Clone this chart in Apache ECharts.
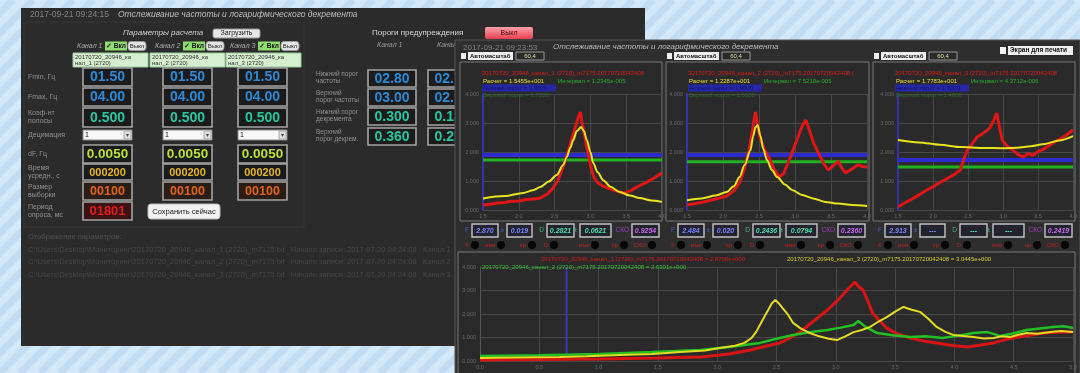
<!DOCTYPE html>
<html>
<head>
<meta charset="utf-8">
<script src="https://cdn.jsdelivr.net/npm/echarts@6/dist/echarts.min.js"></script>
<style>
html,body{margin:0;padding:0;background:#d3e9f9;}
#main{width:1080px;height:373px;}
</style>
</head>
<body>
<div id="main"></div>
<script>
// ---------- Данные ----------
// Частотный диапазон верхних графиков, Гц
const freqMin = 1.5, freqMax = 4.0;
// Диапазон суммарного спектра, Гц
const sumFreqMin = 0, sumFreqMax = 5;

// Канал 1: расчетная кривая и измеренный спектр [частота, амплитуда]
const ch1Calc = [[1.50,0.40],[1.80,0.48],[2.06,0.59],[2.20,0.68],[2.30,0.79],[2.42,0.98],[2.53,1.21],[2.62,1.55],[2.67,1.83],[2.72,2.15],[2.76,2.41],[2.81,2.72],[2.87,2.86],[2.91,2.72],[2.95,2.41],[3.00,2.00],[3.04,1.62],[3.10,1.30],[3.18,1.03],[3.28,0.80],[3.41,0.62],[3.55,0.50],[3.69,0.41],[3.85,0.33],[4.00,0.28]];
const ch1Meas = [[1.50,0.17],[1.60,0.20],[1.70,0.24],[1.80,0.26],[1.90,0.30],[2.00,0.31],[2.10,0.36],[2.20,0.38],[2.30,0.41],[2.40,0.55],[2.48,0.76],[2.55,1.05],[2.62,1.50],[2.68,1.95],[2.74,2.45],[2.79,2.85],[2.83,3.20],[2.86,3.38],[2.88,3.05],[2.91,2.70],[2.95,2.15],[3.00,1.55],[3.05,1.12],[3.10,0.95],[3.18,0.82],[3.28,0.72],[3.38,0.64],[3.48,0.58],[3.56,0.66],[3.64,0.78],[3.72,0.88],[3.80,0.98],[3.90,1.12],[4.00,1.28]];
// Канал 2
const ch2Calc = [[1.50,0.34],[1.70,0.40],[1.90,0.50],[2.05,0.62],[2.15,0.82],[2.23,1.14],[2.30,1.55],[2.38,2.05],[2.42,2.55],[2.45,2.85],[2.48,2.93],[2.52,2.55],[2.56,2.10],[2.61,1.72],[2.68,1.38],[2.75,1.14],[2.86,0.88],[2.96,0.69],[3.10,0.52],[3.25,0.40],[3.42,0.28],[3.60,0.22],[3.80,0.17],[4.00,0.14]];
const ch2Meas = [[1.50,0.17],[1.70,0.26],[1.90,0.38],[2.05,0.48],[2.15,0.66],[2.23,0.95],[2.30,1.45],[2.36,2.05],[2.41,2.75],[2.45,3.38],[2.48,2.95],[2.52,2.45],[2.58,2.05],[2.64,1.80],[2.70,1.45],[2.78,1.14],[2.84,1.25],[2.90,1.60],[2.96,1.97],[3.03,2.45],[3.10,2.90],[3.15,3.10],[3.20,2.75],[3.26,2.30],[3.33,1.95],[3.40,1.60],[3.46,1.38],[3.52,1.50],[3.60,1.68],[3.65,1.45],[3.70,1.28],[3.78,1.40],[3.88,1.56],[3.94,1.50],[4.00,1.48]];
// Канал 3
const ch3Calc = [[1.50,2.41],[1.80,2.33],[2.10,2.25],[2.40,2.17],[2.70,2.14],[3.00,2.13],[3.20,2.15],[3.40,2.20],[3.60,2.28],[3.80,2.40],[4.00,2.55]];
const ch3Meas = [[1.50,0.10],[1.60,0.25],[1.70,0.38],[1.80,0.52],[1.91,0.69],[2.00,0.80],[2.10,0.95],[2.20,1.08],[2.30,1.22],[2.39,1.38],[2.44,1.75],[2.49,2.07],[2.56,2.28],[2.63,2.52],[2.70,2.62],[2.76,2.72],[2.81,2.83],[2.86,3.05],[2.91,3.34],[2.95,2.85],[2.99,2.40],[3.06,2.20],[3.14,2.07],[3.22,1.90],[3.29,1.83],[3.36,1.95],[3.42,1.88],[3.49,2.00],[3.58,2.10],[3.66,2.22],[3.73,2.34],[3.82,2.45],[3.90,2.58],[4.00,2.76]];
// Пороги амплитуды (синий – нижний, зеленый – верхний)
const lowThreshold = [1.90, 1.90, 1.72];
const highThreshold = [1.72, 1.66, 1.48];

// Суммарные спектры трех каналов
const sumCh1 = [[0.00,0.04],[0.50,0.06],[1.01,0.09],[1.50,0.13],[1.86,0.17],[2.10,0.30],[2.28,0.47],[2.40,0.62],[2.53,0.77],[2.62,1.00],[2.70,1.23],[2.80,1.65],[2.93,2.17],[3.02,2.60],[3.08,2.94],[3.13,3.20],[3.16,3.36],[3.19,3.18],[3.23,3.02],[3.27,2.55],[3.31,2.04],[3.37,1.70],[3.43,1.40],[3.52,1.15],[3.63,0.98],[3.74,0.85],[3.85,0.77],[3.98,0.66],[4.11,0.60],[4.22,0.68],[4.33,0.77],[4.41,0.88],[4.49,0.98],[4.62,1.08],[4.75,1.19],[4.88,1.22],[5.00,1.23]];
const sumCh2 = [[0.00,0.21],[0.50,0.25],[1.01,0.30],[1.45,0.38],[1.86,0.47],[2.10,0.60],[2.36,0.77],[2.50,0.95],[2.64,1.11],[2.78,1.22],[2.93,1.32],[3.04,1.42],[3.15,1.53],[3.19,1.70],[3.22,1.58],[3.25,1.45],[3.35,1.19],[3.48,1.10],[3.63,1.02],[3.76,1.05],[3.90,0.98],[4.03,1.08],[4.16,1.19],[4.28,1.23],[4.39,1.06],[4.50,1.18],[4.61,1.32],[4.72,1.38],[4.83,1.45],[4.92,1.48],[5.00,1.40]];
const sumCh3 = [[0.00,0.13],[0.30,0.15],[0.67,0.17],[0.90,0.20],[1.18,0.26],[1.45,0.30],[1.69,0.38],[1.90,0.45],[2.02,0.55],[2.15,0.65],[2.23,0.77],[2.29,0.98],[2.33,1.25],[2.36,1.53],[2.40,1.90],[2.43,2.17],[2.46,2.45],[2.49,2.60],[2.52,2.45],[2.55,2.26],[2.60,1.95],[2.64,1.62],[2.70,1.40],[2.78,1.19],[2.86,1.05],[2.94,0.95],[3.01,0.89],[3.08,1.05],[3.15,1.23],[3.22,1.32],[3.29,1.45],[3.36,1.68],[3.43,1.87],[3.50,2.10],[3.57,2.30],[3.64,2.18],[3.71,2.09],[3.78,1.80],[3.85,1.45],[3.92,1.25],[3.99,1.11],[4.08,1.06],[4.16,1.02],[4.25,0.96],[4.33,0.98],[4.40,1.05],[4.47,1.02],[4.54,1.12],[4.61,1.19],[4.70,1.16],[4.81,1.23],[4.90,1.28],[5.00,1.23]];
const markerFreq = 0.73;

// Параметры расчета по каналам
const fMinVals = ['01.50','01.50','01.50'];
const fMaxVals = ['04.00','04.00','04.00'];
const bandCoef = ['0.500','0.500','0.500'];
const decimation = ['1','1','1'];
const dFVals = ['0.0050','0.0050','0.0050'];
const avgTime = ['000200','000200','000200'];
const sampleSize = ['00100','00100','00100'];
const pollPeriod = '01801';
const thrCh1 = ['02.80','03.00','0.300','0.360'];
const thrCh2 = ['02.70','02.95','0.180','0.250'];

// Результаты: частота, погрешность, декремент, погрешность, СКО
const resF = ['2.870','2.484','2.913'];
const resFErr = ['0.019','0.020','---'];
const resD = ['0.2821','0.2436','---'];
const resDErr = ['0.0621','0.0794','---'];
const resSko = ['0.9254','0.2360','0.2419'];
const calcVals = ['1.5455e+001','1.2287e+001','1.7783e+001'];
const intervalVals = ['1.2345e-005','7.5210e-005','4.3712e-006'];

// ---------- Оформление ----------
const FONT = 'Liberation Sans';
const els = [];
function box(x, y, w, h, fill, stroke, z, lw, r) {
  els.push({type:'rect', z, silent:true, shape:{x, y, width:w, height:h, r:r||0},
    style:{fill, stroke:stroke||'none', lineWidth:lw||1}});
}
function txt(x, y, s, color, size, z, o) {
  o = o || {};
  const st = {text:s, fill:color, fontSize:size, fontFamily:o.family||FONT,
    fontWeight:o.weight||'normal', fontStyle:o.italic?'italic':'normal',
    textAlign:o.align||'left', textVerticalAlign:'middle'};
  if (o.width) { st.width = o.width; st.overflow = 'truncate'; st.ellipsis = ''; }
  if (o.blur) { st.shadowBlur = o.blur; st.shadowColor = color; }
  els.push({type:'text', z, silent:true, x, y, style:st});
}
function seg(x1, y1, x2, y2, color, lw, z) {
  els.push({type:'line', z, silent:true, shape:{x1,y1,x2,y2}, style:{stroke:color, lineWidth:lw}});
}
function dot(cx, cy, r, fill, z) {
  els.push({type:'circle', z, silent:true, shape:{cx,cy,r}, style:{fill}});
}

// Фон с диагональной штриховкой
box(0, 0, 1080, 373, '#d3e9f9', null, 0);
for (let x = -400; x < 1100; x += 20) seg(x, 373, x + 373, 0, 'rgba(170,205,235,0.45)', 7, 0);

// ----- Окно параметров -----
box(21, 8, 624, 338, '#2b2b2b', null, 1);
box(24, 22, 280, 205, 'none', '#363636', 1.5);
txt(30, 15, '2017-09-21 09:24:15', '#858585', 8.5, 2);
txt(118, 15, 'Отслеживание частоты и логарифмического декремента', '#bdbdbd', 8.5, 2, {italic:true});
txt(123, 33, 'Параметры расчета', '#cfcfcf', 8, 2, {italic:true});
box(213, 29, 47, 9, '#e6e6e6', '#999', 2, 1, 2);
txt(236.5, 33.5, 'Загрузить', '#222', 7, 2.5, {align:'center'});

const chX = [77, 155, 230];
const fileX = [73, 150, 226];
for (let i = 0; i < 3; i++) {
  const bx = chX[i];
  txt(bx, 46, 'Канал ' + (i + 1), '#a8a8a8', 7, 2, {italic:true});
  box(bx + 28, 41.5, 22, 9, '#8fdc6e', null, 2);
  txt(bx + 29, 46, '✓ Вкл', '#111', 6.5, 2.5, {weight:'bold'});
  box(bx + 51, 41.5, 18, 9, '#e4e4e4', '#999', 2, 1, 3);
  txt(bx + 60, 46, 'Выкл', '#222', 6, 2.5, {align:'center'});
  box(fileX[i], 53, 75, 14, '#d6efcf', '#9c9', 2);
  txt(fileX[i] + 2, 57, '20170720_20946_ка', '#333', 6, 2.5);
  txt(fileX[i] + 2, 63.5, 'нал_' + (i + 1) + ' (2720)', '#333', 6, 2.5);
}

const rowLabels = [['Fmin, Гц'], ['Fmax, Гц'], ['Коэф-нт', 'полосы'], ['Децимация'], ['dF, Гц'],
  ['Время', 'усредн., с'], ['Размер', 'выборки'], ['Период', 'опроса, мс']];
const rowY = [77, 97, 117, 135, 154, 172, 191, 211];
rowLabels.forEach((lines, k) => {
  const y0 = rowY[k] - (lines.length - 1) * 3.5;
  lines.forEach((s, j) => txt(28, y0 + j * 7.5, s, '#939393', 7, 2));
});

const colX = [83, 163, 238];
function digitBox(x, y, w, h, val, color, size, fill) {
  box(x, y, w, h, fill || '#1b1b1b', '#a4a4a4', 2, 1.6);
  txt(x + w / 2, y + h / 2 + 0.5, val, color, size, 2.5, {align:'center', weight:'bold', blur:3});
}
for (let i = 0; i < 3; i++) {
  const x = colX[i];
  digitBox(x, 68, 49, 18, fMinVals[i], '#2a8ad8', 14);
  digitBox(x, 88, 49, 18, fMaxVals[i], '#2a8ad8', 14);
  digitBox(x, 108, 49, 19, bandCoef[i], '#24c8a0', 14);
  box(x, 130, 49, 10, '#f8f8f8', '#888', 2);
  box(x + 41, 131, 7, 8, '#e0e0e0', '#aaa', 2);
  txt(x + 2, 135, decimation[i], '#111', 7, 2.5);
  txt(x + 44.5, 135, '▾', '#444', 6, 2.5, {align:'center'});
  digitBox(x, 145, 49, 18, dFVals[i], '#bfe034', 13.5);
  digitBox(x, 164, 49, 16, avgTime[i], '#e6b62a', 11);
  digitBox(x, 182, 49, 18, sampleSize[i], '#e26418', 12.5, '#2a1d16');
}
digitBox(83, 202, 49, 18, pollPeriod, '#e41c1c', 13, '#3a1414');
box(148, 204, 72, 15, '#f2f2f2', '#bbb', 2, 1, 3);
txt(184, 211.5, 'Сохранить сейчас', '#222', 7.5, 2.5, {align:'center'});

// Пороги предупреждения
txt(372, 33, 'Пороги предупреждения', '#d6d6d6', 8, 2);
els.push({type:'rect', z:2, silent:true, shape:{x:485, y:27, width:48, height:12, r:2},
  style:{fill:{type:'linear', x:0, y:0, x2:0, y2:1, colorStops:[{offset:0, color:'#ffa0aa'}, {offset:1, color:'#e8404e'}]}}});
txt(509, 33, 'Выкл', '#4a0a0a', 7, 2.5, {align:'center'});
txt(377, 45, 'Канал 1', '#999', 7, 2, {italic:true});
txt(437, 45, 'Канал 2', '#999', 7, 2, {italic:true});
const thrLabels = [['Нижний порог', 'частоты'], ['Верхний', 'порог частоты'], ['Нижний порог', 'декремента'], ['Верхний', 'порог декрем.']];
const thrY = [70, 89, 108, 128];
const thrColors = ['#2a8ad8', '#2a8ad8', '#24c8a0', '#24c8a0'];
thrLabels.forEach((lines, k) => {
  txt(316, thrY[k] + 4, lines[0], '#939393', 6.5, 2);
  txt(316, thrY[k] + 11, lines[1], '#939393', 6.5, 2);
  digitBox(368, thrY[k], 48, 17, thrCh1[k], thrColors[k], 14);
  digitBox(428, thrY[k], 48, 17, thrCh2[k], thrColors[k], 14);
});

txt(28, 237, 'Отображение параметров:', '#505050', 7.5, 2);
const logLines = [
  'C:\\Users\\Desktop\\Мониторинг\\20170720_20946_канал_1 (2720)_m7175.txt   Начало записи: 2017-07-20 04:24:08   Канал 1',
  'C:\\Users\\Desktop\\Мониторинг\\20170720_20946_канал_2 (2720)_m7175.txt   Начало записи: 2017-07-20 04:24:08   Канал 2',
  'C:\\Users\\Desktop\\Мониторинг\\20170720_20946_канал_3 (2720)_m7175.txt   Начало записи: 2017-07-20 04:24:08   Канал 3'];
logLines.forEach((s, k) => txt(28, 249.5 + k * 12.5, s, '#474747', 7.5, 2));

// ----- Окно графиков -----
box(455, 40, 625, 340, '#2e2e2e', '#555', 3);
txt(463, 47.5, '2017-09-21 09:23:53', '#858585', 8, 4);
txt(553, 46.5, 'Отслеживание частоты и логарифмического декремента', '#bdbdbd', 8, 4, {italic:true});
box(1000, 47, 6, 7, '#f4f4f4', null, 4);
box(1008, 46, 65, 9, '#f0f0f0', null, 4);
txt(1010, 50.5, 'Экран для печати', '#111', 6.5, 4.5, {weight:'bold'});

const frameX = [460, 666, 873];
const frameW = [202, 203, 202];
const redNames = ['20170720_20946_канал_1 (2720)_m7175.20170720042408 (0.0050 Гц, 1.50-4.00 Гц) = 2.8700e+000',
  '20170720_20946_канал_2 (2720)_m7175.20170720042408 (0.0050 Гц, 1.50-4.00 Гц) = 2.4840e+000',
  '20170720_20946_канал_3 (2720)_m7175.20170720042408 (0.0050 Гц, 1.50-4.00 Гц) = 2.9130e+000'];
for (let i = 0; i < 3; i++) {
  const L = frameX[i];
  box(L, 62, frameW[i], 159, '#2a2a2a', '#777', 4);
  // строка автомасштаба
  box(L + 1, 53, 5, 6, '#eee', null, 4);
  box(L + 8, 52, 45, 8, '#f0f0f0', null, 4);
  txt(L + 10, 56, 'Автомасштаб', '#111', 6, 4.5, {weight:'bold'});
  box(L + 56, 52, 28, 8, '#2a2a2a', '#999', 4);
  txt(L + 70, 56, '60,4', '#c8e0a0', 6, 4.5, {align:'center'});
  // подписи
  txt(L + 22, 73, redNames[i], '#e01a1a', 6, 7, {width:frameW[i] - 24});
  txt(L + 23, 81, 'Расчет = ' + calcVals[i], '#e8e020', 6, 7);
  txt(L + 98, 81, 'Интервал = ' + intervalVals[i], '#28b028', 6, 7);
  box(L + 22, 84.5, 74, 7, '#2626a8', null, 7);
  txt(L + 23, 88, 'Нижний порог = ' + lowThreshold[i].toFixed(4), '#14146a', 6, 7.5);
  txt(L + 23, 95.5, 'Верхний порог = ' + highThreshold[i].toFixed(4), '#2a6a2a', 6, 7);

  // строка результатов
  const boxDefs = [
    {p:'F', pc:'#4a5ad0', x:12, w:26, v:resF[i], c:'#7484ff'},
    {p:'±', pc:'#4a5ad0', x:47, w:25, v:resFErr[i], c:'#7484ff'},
    {p:'D', pc:'#3ab890', x:87, w:27, v:resD[i], c:'#44e0a8'},
    {p:'±', pc:'#3ab890', x:120, w:31, v:resDErr[i], c:'#44e0a8'},
    {p:'СКО', pc:'#9a40c0', x:172, w:27, v:resSko[i], c:'#c864f0'}];
  boxDefs.forEach(b => {
    txt(L + b.x - 3, 230.5, b.p, b.pc, 6.5, 4.5, {align:'right'});
    box(L + b.x, 224, b.w, 13, '#232330', '#c4c4c4', 4, 1.4);
    txt(L + b.x + b.w / 2, 230.8, b.v, b.c, 7, 4.5, {align:'center', italic:true, weight:'bold'});
  });
  // индикаторы
  const dotX = [15, 41, 72, 94, 135, 164, 192];
  const dotLbl = ['F', 'изм', 'ср', 'D', 'изм', 'ср', 'СКО'];
  dotX.forEach((dx, k) => {
    txt(L + dx - 6, 245, dotLbl[k], '#c81c1c', 6, 4.5, {align:'right'});
    dot(L + dx, 245, 4, '#050505', 4.5);
  });
}

// Суммарный спектр
box(458, 252, 617, 130, '#2a2a2a', '#777', 4);
txt(643, 259, '20170720_20946_канал_1 (2720)_m7175.20170720042408 = 2.8700e+000', '#d81818', 6, 7, {align:'center'});
txt(482, 267, '20170720_20946_канал_2 (2720)_m7175.20170720042408 = 2.6301e+000', '#30c030', 6, 7);
txt(787, 259, '20170720_20946_канал_3 (2720)_m7175.20170720042408 = 3.0445e+000', '#d8d020', 6, 7);

// ---------- Графики ----------
const grids = [
  {left:483, top:94, width:179, height:116},
  {left:687, top:94, width:180, height:116},
  {left:898, top:94, width:175, height:116},
  {left:480, top:267, width:593, height:94}
];
const splitStyle = {lineStyle:{color:'#474747', width:1}};
const labelStyle = {fontSize:5.5, color:'#6a6a6a', fontFamily:FONT};
const xAxes = grids.map((g, i) => ({
  gridIndex:i, type:'value', z:5,
  min: i < 3 ? freqMin : sumFreqMin, max: i < 3 ? freqMax : sumFreqMax, interval:0.5,
  axisLine:{show:false}, axisTick:{show:false},
  axisLabel:Object.assign({margin:3, formatter:v => v.toFixed(1)}, labelStyle),
  splitLine:splitStyle
}));
const yAxes = grids.map((g, i) => ({
  gridIndex:i, type:'value', z:5, min:0, max:4, interval:1,
  axisLine:{show:true, lineStyle:{color: i < 3 ? '#3434a8' : '#555', width: i < 3 ? 2 : 1}},
  axisTick:{show:false},
  axisLabel:Object.assign({margin:4, formatter:v => v.toFixed(3)}, labelStyle),
  splitLine:splitStyle
}));

function line(idx, data, color, width, smooth) {
  return {type:'line', xAxisIndex:idx, yAxisIndex:idx, data, z:6, showSymbol:false,
    smooth:smooth||false, smoothMonotone:'x',
    lineStyle:{color, width}, itemStyle:{color}, silent:true};
}
const calc = [ch1Calc, ch2Calc, ch3Calc];
const meas = [ch1Meas, ch2Meas, ch3Meas];
const series = [];
for (let i = 0; i < 3; i++) {
  series.push(line(i, [[freqMin, lowThreshold[i]], [freqMax, lowThreshold[i]]], '#2b2bd0', 4));
  series.push(line(i, [[freqMin, highThreshold[i]], [freqMax, highThreshold[i]]], '#20b020', 3));
  series.push(line(i, meas[i], '#e01616', 3));
  series.push(line(i, calc[i], '#e8e41e', 2, 0.3));
}
series.push(line(3, [[markerFreq, 0], [markerFreq, 4]], '#3a3ab8', 2));
series.push(line(3, sumCh1, '#d81414', 3));
series.push(line(3, sumCh2, '#22c022', 2.5));
series.push(line(3, sumCh3, '#e4dc22', 2));

const chart = echarts.init(document.getElementById('main'), null, {renderer:'canvas'});
chart.setOption({
  animation:false,
  backgroundColor:'#d3e9f9',
  grid:grids.map(g => Object.assign({show:false}, g)),
  xAxis:xAxes,
  yAxis:yAxes,
  series,
  graphic:{elements:els}
});
</script>
</body>
</html>
